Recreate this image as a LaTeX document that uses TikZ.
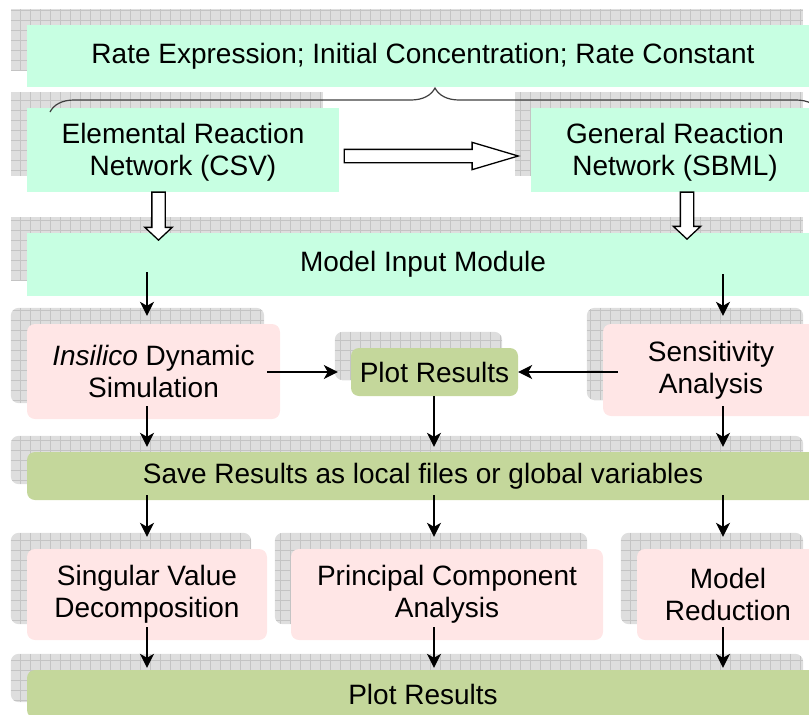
\documentclass[tikz,border=0pt]{standalone}
\usepackage{fontspec}
\setmainfont{Liberation Sans}
\usetikzlibrary{arrows.meta,shapes.arrows,backgrounds,decorations.pathreplacing}

\definecolor{mint}{RGB}{199,255,226}
\definecolor{rose}{RGB}{255,230,230}
\definecolor{olive}{RGB}{196,215,155}
\definecolor{shadowgray}{RGB}{222,222,222}
\definecolor{gridgray}{RGB}{196,196,196}

\tikzset{
    plain/.style = {align=center, inner sep=0pt, font=\fontsize{28}{32}\selectfont},
    mintbox/.style = {plain, fill=mint},
    pinkbox/.style = {plain, fill=rose, rounded corners=8pt},
    greenbox/.style = {plain, fill=olive, rounded corners=8pt},
    shadowbox/.style = {fill=shadowgray, path picture={
        \draw[gridgray, line width=0.5pt, step=10pt]
            (path picture bounding box.south west) grid (path picture bounding box.north east);}},
    arr/.style = {-{Stealth[length=14pt, width=14pt, inset=4pt]}, line width=1.3pt},
    blockarrow/.style = {single arrow, draw, fill=white, line width=1.3pt, inner sep=6pt,
        single arrow head extend=7pt},
    brace/.style = {decorate, decoration={brace, amplitude=24pt}, draw=black!75, line width=1.2pt}
}

\begin{document}
\begin{tikzpicture}[x=1pt, y=-1pt]
    \useasboundingbox (0,0) rectangle (809,715);

    % input
    \node[mintbox, minimum width=792pt, minimum height=62pt] (rate) at (423,56)
        {Rate Expression; Initial Concentration; Rate Constant};
    \node[mintbox, minimum width=312pt, minimum height=84pt, text depth=2pt] (csv) at (183,150)
        {Elemental Reaction\\Network (CSV)};
    \node[mintbox, minimum width=288pt, minimum height=84pt, text depth=2pt] (sbml) at (675,150)
        {General Reaction\\Network (SBML)};
    \node[mintbox, minimum width=792pt, minimum height=63pt] (mim) at (423,264.5)
        {Model Input Module};

    % simulation
    \node[pinkbox, minimum width=253pt, minimum height=95pt] (insilico) at (153.5,371.5)
        {\textit{Insilico} Dynamic\\Simulation};
    \node[greenbox, minimum width=167pt, minimum height=48pt] (plot1) at (434.5,372)
        {Plot Results};
    \node[pinkbox, minimum width=216pt, minimum height=92pt] (sens) at (711,370)
        {Sensitivity\\Analysis};
    \node[greenbox, minimum width=792pt, minimum height=48pt] (save) at (423,476)
        {Save Results as local files or global variables};

    % analysis
    \node[pinkbox, minimum width=240pt, minimum height=91pt] (svd) at (147,594.5)
        {Singular Value\\Decomposition};
    \node[pinkbox, minimum width=312pt, minimum height=91pt] (pca) at (447,594.5)
        {Principal Component\\Analysis};
    \node[pinkbox, minimum width=182pt, minimum height=91pt] (red) at (728,594.5)
        {Model\\Reduction};
    \node[greenbox, minimum width=792pt, minimum height=48pt] (plot2) at (423,694)
        {Plot Results};

    % shadows
    \begin{scope}[on background layer]
        \foreach \n in {rate,csv,sbml,mim}
            \path[shadowbox] ([shift={(-16pt,16pt)}]\n.south west) rectangle ([shift={(-16pt,16pt)}]\n.north east);
        \foreach \n in {insilico,plot1,sens,save,svd,pca,red,plot2}
            \path[shadowbox, rounded corners=8pt] ([shift={(-16pt,16pt)}]\n.south west) rectangle ([shift={(-16pt,16pt)}]\n.north east);
    \end{scope}

    \draw[brace] (50,112) -- (820,112);

    \node[blockarrow, minimum height=174pt, single arrow tip angle=33] (conv) at (420,156) {};
    \node[blockarrow, minimum height=48pt, single arrow tip angle=94, shape border rotate=270] (loadcsv) at (158.5,213) {};
    \node[blockarrow, minimum height=47pt, single arrow tip angle=94, shape border rotate=270] (loadsbml) at (687,212.5) {};

    \coordinate (colA) at (147,0);
    \coordinate (colB) at (434,0);
    \coordinate (colC) at (723,0);

    \draw[arr, shorten <=-24pt, shorten >=8pt] (mim.south -| colA) -- (insilico.north -| colA);
    \draw[arr, shorten <=-22pt, shorten >=8pt] (mim.south -| colC) -- (sens.north -| colC);
    \draw[arr, shorten <=-13pt, shorten >=13pt] (insilico.east |- plot1) -- (plot1.west);
    \draw[arr, shorten <=-15pt] (sens.west |- plot1) -- (plot1.east);
    \draw[arr, shorten <=-13pt, shorten >=5pt] (insilico.south -| colA) -- (save.north -| colA);
    \draw[arr, shorten >=5pt] (plot1.south -| colB) -- (save.north -| colB);
    \draw[arr, shorten <=-10pt, shorten >=5pt] (sens.south -| colC) -- (save.north -| colC);
    \foreach \n/\c in {svd/colA, pca/colB, red/colC} {
        \draw[arr, shorten <=-5pt, shorten >=12pt] (save.south -| \c) -- (\n.north -| \c);
        \draw[arr, shorten <=-13pt, shorten >=2pt] (\n.south -| \c) -- (plot2.north -| \c);
    }
\end{tikzpicture}
\end{document}
